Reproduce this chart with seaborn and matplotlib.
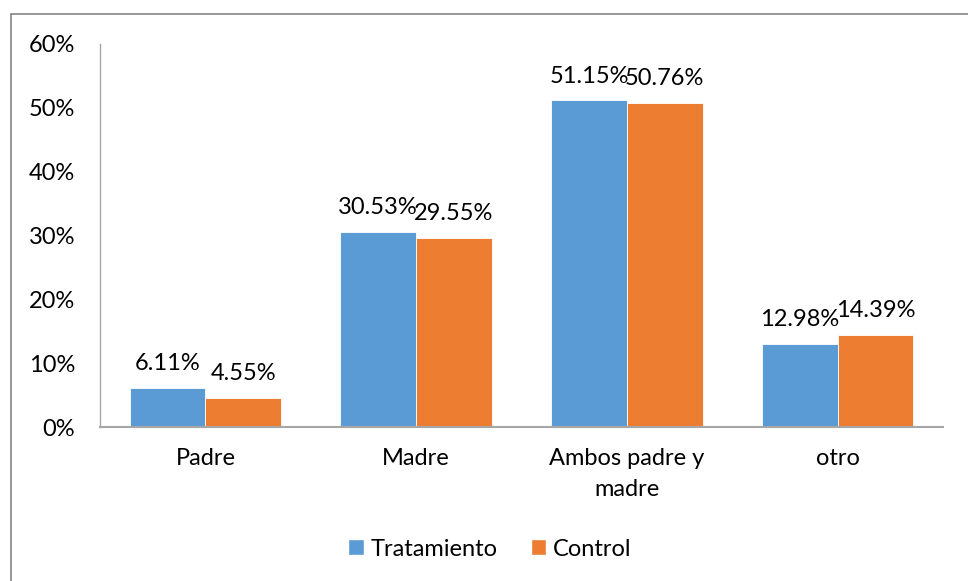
import matplotlib
matplotlib.use("Agg")
import matplotlib.pyplot as plt
import seaborn as sns
import pandas as pd
from matplotlib.lines import Line2D
from matplotlib.patches import Patch

categories = ["Padre", "Madre", "Ambos padre y\nmadre", "otro"]
series = ["Tratamiento", "Control"]
tratamiento = [6.11, 30.53, 51.15, 12.98]
control = [4.55, 29.55, 50.76, 14.39]
yticks = [0, 10, 20, 30, 40, 50, 60]
colors = ["#5B9BD5", "#ED7D31"]

df = pd.DataFrame({
    "cat": categories * 2,
    "serie": [series[0]] * 4 + [series[1]] * 4,
    "val": tratamiento + control,
})

sns.set_style("white")
plt.rcParams["font.family"] = "Lato"
FS = 17

fig = plt.figure(figsize=(9.68, 5.81), dpi=100)
ax = fig.add_axes([100 / 968, 1 - 427 / 581, 843 / 968, 383 / 581])

sns.barplot(data=df, x="cat", y="val", hue="serie", palette=colors,
            width=0.72, ax=ax, legend=False, saturation=1,
            edgecolor="white", linewidth=0.6)

for cont in ax.containers:
    labels = [f"{v:.2f}%" for v in cont.datavalues]
    ax.bar_label(cont, labels=labels, padding=10, fontsize=FS, color="#000000")

ax.set_ylim(0, 60)
ax.set_yticks(yticks)
ax.set_yticklabels([f"{t}%" for t in yticks], fontsize=FS, color="#000000")
ax.set_xlabel("")
ax.set_ylabel("")
ax.set_xticks(range(len(categories)))
ax.set_xticklabels(categories, fontsize=FS, color="#000000", va="top",
                   ha="center", multialignment="center", linespacing=1.6)
ax.tick_params(axis="x", length=0, pad=15)
ax.tick_params(axis="y", length=0, pad=18)

for s in ["top", "right"]:
    ax.spines[s].set_visible(False)
ax.spines["left"].set_color("#A6A6A6")
ax.spines["bottom"].set_color("#A6A6A6")
ax.spines["left"].set_linewidth(1.0)
ax.spines["bottom"].set_linewidth(1.5)

handles = [Patch(facecolor=colors[0], label=series[0]),
           Patch(facecolor=colors[1], label=series[1])]
leg = fig.legend(handles=handles, loc="center", bbox_to_anchor=(490 / 968, 1 - 549 / 581),
                 ncol=2, frameon=False, fontsize=FS, handlelength=0.65, handleheight=0.65,
                 handletextpad=0.3, columnspacing=1.4)
for t in leg.get_texts():
    t.set_color("#000000")

# chart area border (top and left visible)
fig.add_artist(Line2D([11 / 968, 11 / 968], [0, 1 - 14 / 581], transform=fig.transFigure,
                      color="#868686", linewidth=1.2))
fig.add_artist(Line2D([11 / 968, 1], [1 - 14 / 581, 1 - 14 / 581], transform=fig.transFigure,
                      color="#868686", linewidth=1.2))

fig.savefig("out.png", dpi=100)
